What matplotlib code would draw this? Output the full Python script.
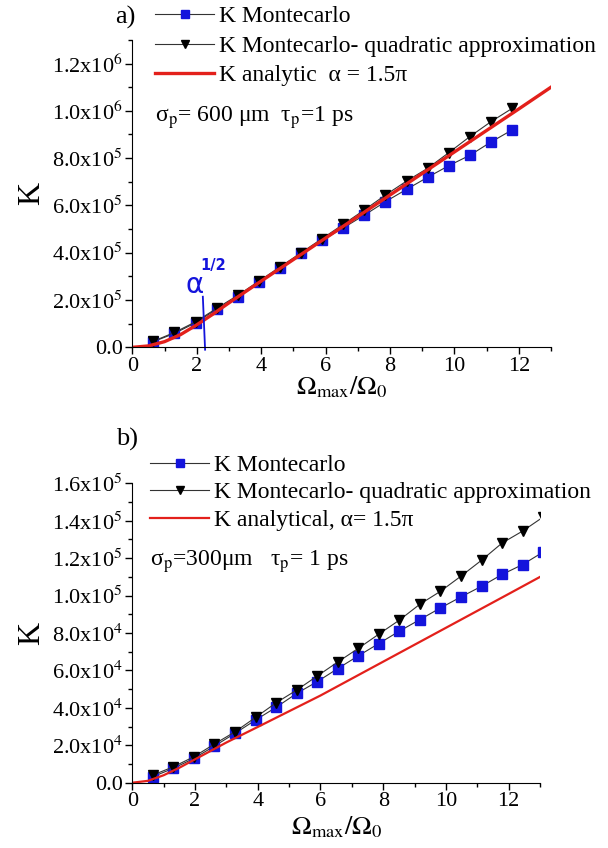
import numpy as np
import matplotlib
matplotlib.use("Agg")
import matplotlib.pyplot as plt
from matplotlib.ticker import MultipleLocator, FuncFormatter

plt.rcParams['font.family'] = ['Liberation Serif', 'DejaVu Serif']
plt.rcParams['mathtext.fontset'] = 'stix'

# ---- data ----
# panel a)  sigma_p = 600 um
xa = [0.655 * i for i in range(1, 19)]
ka_mc = [2.4e4, 5.9e4, 1.04e5, 1.61e5, 2.14e5, 2.75e5, 3.34e5, 3.97e5, 4.52e5,
         5.05e5, 5.59e5, 6.16e5, 6.68e5, 7.19e5, 7.68e5, 8.12e5, 8.68e5, 9.19e5]
ka_quad = [2.6e4, 6.3e4, 1.08e5, 1.65e5, 2.2e5, 2.8e5, 3.4e5, 4.0e5, 4.6e5,
           5.2e5, 5.81e5, 6.44e5, 7.03e5, 7.57e5, 8.23e5, 8.91e5, 9.54e5, 1.01e6]
xa_an = [0, 0.5, 1, 1.5, 2, 2.5, 3, 4, 6, 8, 10, 12, 13]
ka_an = [0, 6e3, 2.4e4, 5.4e4, 9.5e4, 1.4e5, 1.88e5, 2.8e5, 4.62e5, 6.44e5,
         8.26e5, 1.008e6, 1.1e6]
alpha_x = [2.19, 2.26]
alpha_k = [2.14e5, -1.0e4]

# panel b)  sigma_p = 300 um
xb = [0.655 * i for i in range(1, 21)]
kb_mc = [3.2e3, 7.7e3, 1.3e4, 1.96e4, 2.64e4, 3.35e4, 4.03e4, 4.77e4, 5.4e4,
         6.1e4, 6.78e4, 7.44e4, 8.1e4, 8.72e4, 9.34e4, 9.93e4, 1.05e5, 1.113e5,
         1.166e5, 1.233e5]
kb_quad = [4.1e3, 8.5e3, 1.39e4, 2.07e4, 2.72e4, 3.49e4, 4.27e4, 4.95e4, 5.7e4,
           6.45e4, 7.18e4, 7.94e4, 8.69e4, 9.54e4, 1.023e5, 1.104e5, 1.189e5,
           1.281e5, 1.345e5, 1.42e5]
xb_an = [0, 0.5, 1, 1.5, 2, 2.5, 3, 4, 6, 8, 10, 12, 13]
kb_an = [0, 1.0e3, 4.0e3, 8.0e3, 1.25e4, 1.7e4, 2.15e4, 2.98e4, 4.66e4, 6.47e4,
         8.28e4, 1.009e5, 1.1e5]

blue = '#1414DC'
red = '#E3201B'


def sci(v, pos):
    if abs(v) < 1e-9:
        return "0.0"
    e = int(np.floor(np.log10(abs(v)) + 1e-9))
    m = v / 10**e
    return f"{m:.1f}x10$^{{{e}}}$"


def style(ax, ymaj, ymax, xpad):
    ax.set_xlim(0, 13)
    ax.set_ylim(0, ymax)
    for s in ['top', 'right']:
        ax.spines[s].set_visible(False)
    ax.xaxis.set_major_locator(MultipleLocator(2))
    ax.xaxis.set_minor_locator(MultipleLocator(1))
    ax.yaxis.set_major_locator(MultipleLocator(ymaj))
    ax.yaxis.set_minor_locator(MultipleLocator(ymaj / 2))
    ax.yaxis.set_major_formatter(FuncFormatter(sci))
    ax.tick_params(which='major', direction='out', length=5, width=1, labelsize=16, pad=2)
    ax.tick_params(which='minor', direction='out', length=3, width=1)
    ax.set_xlabel(r"$\Omega_{\rm max}/\Omega_0$", fontsize=19, labelpad=xpad)
    ax.set_ylabel("K", fontsize=23, labelpad=4)


fig = plt.figure(figsize=(6.08, 8.48), dpi=100)
leg_kw = dict(loc='upper left', bbox_transform=fig.transFigure, frameon=False,
              fontsize=17, handlelength=2.5, handletextpad=0.2, borderpad=0,
              borderaxespad=0, markerscale=0.8)

# ---- panel a ----
ax1 = fig.add_axes([0.2176, 0.5904, 0.6887, 0.3626])
l1, = ax1.plot(xa, ka_mc, color='#333333', lw=0.8, marker='s', ms=6.5,
               mfc=blue, mec=blue, label='K Montecarlo')
l2, = ax1.plot(xa, ka_quad, color='#333333', lw=0.8, marker='v', ms=7.5,
               mfc='black', mec='black', label='K Montecarlo- quadratic approximation')
l3, = ax1.plot(xa_an, ka_an, color=red, lw=2.4, label='K analytic  α = 1.5π')
ax1.plot(alpha_x, alpha_k, color=blue, lw=1.3, clip_on=False)
ax1.text(1.95, 2.3e5, "α", color=blue, fontsize=20, family='DejaVu Sans', ha='center')
ax1.text(2.5, 3.25e5, "1/2", color=blue, fontsize=10.5, family='DejaVu Sans',
         ha='center', weight='bold')
style(ax1, 2e5, 1.3e6, -1)
ax1.legend(handles=[l1, l2, l3], bbox_to_anchor=(0.255, 0.993),
           labelspacing=0.33, **leg_kw)
fig.text(0.255, 0.856, "σ$_{\\rm p}$= 600 μm  τ$_{\\rm p}$=1 ps", fontsize=17)
fig.text(0.19, 0.972, "a)", fontsize=19)

# ---- panel b ----
ax2 = fig.add_axes([0.2176, 0.077, 0.6706, 0.353])
m1, = ax2.plot(xb, kb_mc, color='#333333', lw=0.8, marker='s', ms=6.5,
               mfc=blue, mec=blue, label='K Montecarlo')
m2, = ax2.plot(xb, kb_quad, color='#333333', lw=0.8, marker='v', ms=7.5,
               mfc='black', mec='black', label='K Montecarlo- quadratic approximation')
m3, = ax2.plot(xb_an, kb_an, color=red, lw=1.6, label='K analytical, α= 1.5π')
style(ax2, 2e4, 1.6e5, 2)
ax2.legend(handles=[m1, m2, m3], bbox_to_anchor=(0.247, 0.464),
           labelspacing=0.25, **leg_kw)
fig.text(0.247, 0.333, "σ$_{\\rm p}$=300μm   τ$_{\\rm p}$= 1 ps", fontsize=17)
fig.text(0.19, 0.475, "b)", fontsize=19)

fig.savefig("out.png", dpi=100)
